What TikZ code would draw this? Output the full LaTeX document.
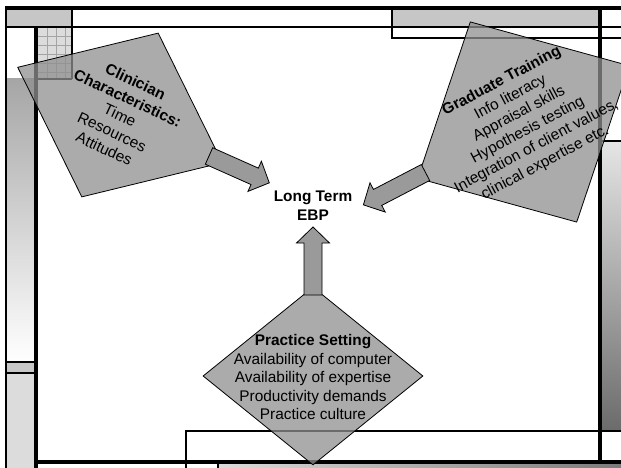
\documentclass[tikz,border=0pt]{standalone}
\usepackage{fontspec}
\setmainfont{Liberation Sans}
\usepackage{tikz}
\usetikzlibrary{shapes.geometric}
\definecolor{panelGrey}{HTML}{C6C6C6}
\definecolor{paleGrey}{HTML}{DCDCDC}
\definecolor{gridGrey}{HTML}{A4A4A4}
\definecolor{factorGrey}{HTML}{8F8F8F}
\definecolor{arrowGrey}{HTML}{9A9A9A}
\tikzset{
  thinrule/.style={draw=black, line width=1.2pt},
  thickrule/.style={draw=black, line width=3.4pt},
  gridrule/.style={draw=gridGrey, line width=0.5pt},
  factorbox/.style={diamond, draw=black, fill=factorGrey, fill opacity=0.75, line width=0.8pt, inner sep=0pt},
  factortext/.style={align=center, font=\fontsize{15.4}{18.5}\selectfont, inner sep=0pt},
  hubtext/.style={align=center, font=\fontsize{15.4}{18.5}\selectfont\bfseries, inner sep=0pt},
  blockfill/.style={draw=black, fill=arrowGrey, line width=0.8pt, line join=miter},
  % --- block arrow, #1 = length ---
  pics/flowblock/.style={code={
    \draw[blockfill] (0,-9) -- ({#1-16},-9) -- ({#1-16},-16.5) -- (#1,0) -- ({#1-16},16.5) -- ({#1-16},9) -- (0,9) -- cycle;
  }},
}

\begin{document}
\begin{tikzpicture}[x=1pt,y=-1pt]
  \useasboundingbox (0,0) rectangle (621,468);
  \fill[white] (0,0) rectangle (621,468);

  % Slide frame
  \filldraw[thinrule, fill=panelGrey] (6,9) rectangle (72,27);
  \fill[paleGrey] (38,27) rectangle (72,79);
  \foreach \gx in {47,56,65} \draw[gridrule] (\gx,27) -- (\gx,79);
  \foreach \gy in {36,45,54,63,72} \draw[gridrule] (38,\gy) -- (72,\gy);
  \draw[thinrule] (72,9) -- (72,79);
  \draw[thinrule] (6,79) -- (72,79);
  \shade[top color=black!35, bottom color=white] (6,79) rectangle (35,362);
  \filldraw[thinrule, fill=black!22] (6,362) rectangle (35,373);
  \fill[paleGrey] (6,374) rectangle (35,468);
  \draw[draw=black, line width=2pt] (6,373) -- (36,373);
  \filldraw[thinrule, fill=panelGrey] (392,9) rectangle (600,27);
  \draw[thinrule] (392,27) -- (392,38) -- (621,38);
  \draw[thinrule] (6,27) -- (621,27);
  \shade[top color=black!10, bottom color=black!58] (600,141) rectangle (621,431);
  \draw[thinrule] (600,141) -- (621,141);
  \draw[thinrule] (186,468) -- (186,431) -- (621,431);
  \shade[left color=black!14, right color=black!52] (218,463) rectangle (621,468);
  \draw[thinrule] (218,462) -- (218,468);
  \draw[draw=black, line width=2pt] (6,7) -- (6,468);
  \draw[thickrule] (5,8) -- (621,8);
  \draw[thickrule] (36,27) -- (36,468);
  \draw[thickrule] (600,8) -- (600,462);
  \draw[thickrule] (36,462) -- (621,462);

  % Factors
  \node[factorbox, minimum width=226pt, minimum height=181pt, rotate=-25] (clinician) at (120,115) {};
  \node[factorbox, minimum width=240pt, minimum height=227pt, rotate=28] (training) at (523.5,122) {};
  \node[factorbox, minimum width=220pt, minimum height=178pt] (setting) at (313,376) {};

  % Arrows
  \coordinate (clinicianFoot) at (209,156);
  \coordinate (trainingFoot) at (425.5,172.5);
  \coordinate (settingFoot) at (313,295);
  \pic[rotate=-24] at (clinicianFoot) {flowblock=66};
  \pic[rotate=-152.5] at (trainingFoot) {flowblock=70};
  \pic[rotate=90] at (settingFoot) {flowblock=68};

  % Texts
  \node[factortext, rotate=-25] (clinicianText) at (clinician.center) {\textbf{Clinician}\\ \textbf{Characteristics:}\\ Time\\ Resources\\ Attitudes};
  \node[factortext, rotate=28] (trainingText) at (training.center) {\textbf{Graduate Training}\\ Info literacy\\ Appraisal skills\\ Hypothesis testing\\ Integration of client values,\\ clinical expertise etc.};
  \node[factortext] (settingText) at (313,377) {\textbf{Practice Setting}\\ Availability of computer\\ Availability of expertise\\ Productivity demands\\ Practice culture};
  \node[hubtext] (ebp) at (313,205.5) {Long Term\\ EBP};
\end{tikzpicture}
\end{document}
